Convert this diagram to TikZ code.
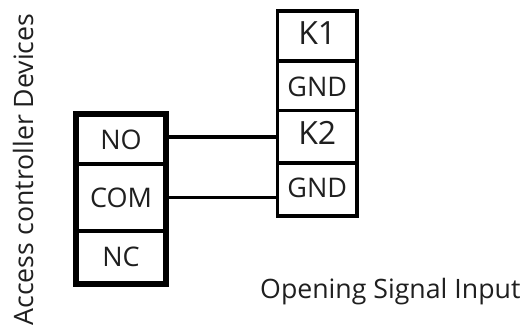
\documentclass[tikz,border=0pt]{standalone}
\usepackage{fontspec}
\setmainfont{Open Sans}
\usetikzlibrary{positioning}
\colorlet{background}{white}
\colorlet{penColor}{black}
\colorlet{textColor}{black!88}
\tikzset{
	cell/.style={draw=penColor, line width=3.5pt, inner sep=0pt, text=textColor,
		font=\fontsize{27}{31}\selectfont, text height=19.3pt, text depth=0pt},
	bigcell/.style={cell, font=\fontsize{32}{36}\selectfont, text height=22.8pt},
	wire/.style={penColor, line width=3.5pt},
	caption/.style={text=textColor, inner sep=0pt, font=\fontsize{26.7}{30}\selectfont}
}

\begin{document}
\begin{tikzpicture}[x=1pt,y=-1pt]
				\useasboundingbox (0,0) rectangle (525,325);
				% access controller terminals
				\node[cell, minimum width=87pt, minimum height=48.5pt] (no) at (121,139.75) {NO};
				\node[cell, minimum width=87pt, minimum height=67pt] (com) at (121,197.5) {COM};
				\node[cell, minimum width=87pt, minimum height=52pt] (nc) at (121,257) {NC};
				\draw[penColor, line width=5pt] (no.north west) rectangle (nc.south east);
				
				% signal input terminals
				\node[bigcell, minimum width=79.5pt, minimum height=50pt, text depth=5.4pt] (k1) at (317.25,36) {K1};
				\node[cell, minimum width=79.5pt, minimum height=49.5pt, text height=21.8pt] (gnda) at (317.25,85.75) {GND};
				\node[bigcell, minimum width=79.5pt, minimum height=52.5pt, text depth=7.4pt] (k2) at (317.25,136.75) {K2};
				\node[cell, minimum width=79.5pt, minimum height=53pt, text depth=4pt] (gndb) at (317.25,189.5) {GND};
				
				\draw[wire] (k2.west) -- (k2.west -| no.east);
				\draw[wire] (com.east) -- (com.east -| gndb.west);
				
				\node[caption, rotate=90, anchor=base] (dev) at (33,169.5) {Access controller Devices};
				\node[caption, anchor=base west] (inp) at (260,298) {Opening Signal Input};
\end{tikzpicture}
\end{document}
